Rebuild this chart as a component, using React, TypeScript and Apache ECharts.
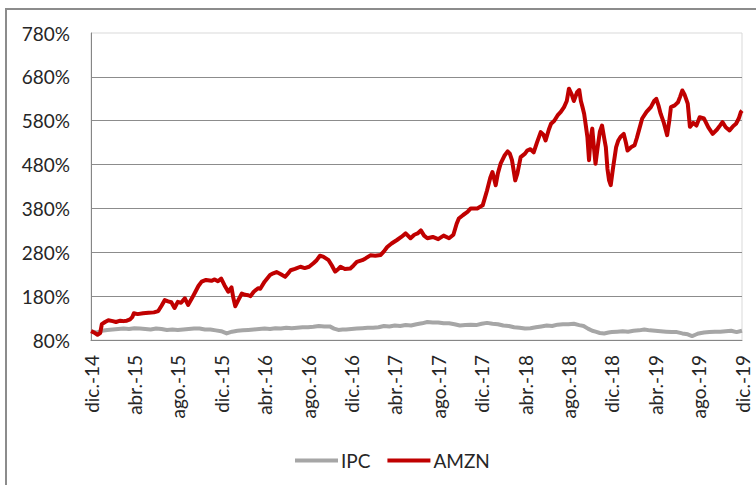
import React, { useEffect, useRef } from "react";
import * as echarts from "echarts";

// Month offsets from Dec 2014; tick labels every 4 months
const xTickLabels = [
  "dic.-14", "abr.-15", "ago.-15", "dic.-15", "abr.-16", "ago.-16", "dic.-16", "abr.-17",
  "ago.-17", "dic.-17", "abr.-18", "ago.-18", "dic.-18", "abr.-19", "ago.-19", "dic.-19",
];

const yBase = 80; // lowest % shown on the value axis

const ipcMonths = [
  0, 0.5, 1, 1.5, 2, 2.5, 3, 3.5, 4, 4.5, 5, 5.5, 6, 6.5, 7, 7.5, 8, 8.5, 9, 9.5, 10, 10.5,
  11, 11.5, 12, 12.5, 13, 13.5, 14, 14.5, 15, 15.5, 16, 16.5, 17, 17.5, 18, 18.5, 19, 19.5,
  20, 20.5, 21, 21.5, 22, 22.4, 22.8, 23.2, 23.5, 24, 24.5, 25, 25.5, 26, 26.5, 27, 27.5, 28,
  28.5, 29, 29.5, 30, 30.5, 31, 31.5, 32, 32.5, 33, 33.5, 34, 34.5, 35, 35.5, 36, 36.5, 37,
  37.5, 38, 38.5, 39, 39.5, 40, 40.5, 41, 41.5, 42, 42.5, 43, 43.5, 44, 44.5, 45, 45.4, 45.8,
  46.2, 46.5, 46.9, 47.3, 47.7, 48, 48.5, 49, 49.5, 50, 50.5, 51, 51.5, 52, 52.5, 53, 53.5,
  54, 54.5, 55, 55.4, 55.7, 56, 56.5, 57, 57.5, 58, 58.5, 59, 59.5, 60,
];
const ipcValues = [
  100, 97, 101, 103, 104, 105, 106, 105, 107, 106, 105, 104, 106, 105, 103, 104, 103, 104,
  105, 106, 106, 104, 104, 102, 100, 95, 99, 101, 102, 103, 104, 105, 106, 105, 107, 106,
  108, 107, 108, 109, 109, 110, 112, 111, 111, 106, 103, 104, 104, 105, 106, 107, 108, 108,
  109, 112, 111, 113, 112, 114, 113, 116, 118, 121, 120, 120, 118, 118, 116, 113, 114, 115,
  114, 117, 119, 117, 116, 113, 112, 109, 108, 106, 107, 109, 111, 113, 112, 115, 116, 116,
  117, 114, 112, 106, 101, 99, 96, 95, 97, 98, 99, 100, 99, 101, 102, 104, 102, 101, 100,
  99, 98, 98, 95, 93, 89, 92, 95, 97, 98, 99, 99, 100, 101, 98, 101,
];

const amznMonths = [
  0, 0.3, 0.6, 0.85, 1.0, 1.3, 1.6, 2.0, 2.3, 2.7, 3.0, 3.3, 3.6, 3.8, 3.95, 4.3, 4.8, 5.3,
  5.8, 6.2, 6.5, 6.8, 7.1, 7.4, 7.7, 8.0, 8.3, 8.65, 8.95, 9.3, 9.6, 9.9, 10.2, 10.6, 11.1,
  11.4, 11.7, 12.0, 12.3, 12.65, 12.95, 13.1, 13.3, 13.6, 13.9, 14.2, 14.5, 14.7, 15.0, 15.4,
  15.6, 16.0, 16.5, 16.8, 17.1, 17.5, 17.9, 18.2, 18.4, 18.8, 19.3, 19.7, 20.1, 20.5, 20.8,
  21.1, 21.4, 21.9, 22.2, 22.5, 22.8, 23.0, 23.4, 23.9, 24.2, 24.5, 25.0, 25.3, 25.75, 26.2,
  26.7, 27.0, 27.3, 27.7, 28.2, 28.6, 29.0, 29.45, 29.8, 30.1, 30.4, 30.7, 31.0, 31.5, 32.0,
  32.5, 33.0, 33.4, 33.7, 33.9, 34.3, 34.7, 35.0, 35.6, 36.1, 36.5, 36.8, 37.0, 37.3, 37.5,
  37.75, 38.1, 38.4, 38.6, 38.8, 39.1, 39.3, 39.6, 40.0, 40.2, 40.5, 40.8, 41.1, 41.45, 41.7,
  41.9, 42.2, 42.4, 42.7, 43.0, 43.3, 43.6, 43.85, 44.05, 44.3, 44.5, 44.8, 45.0, 45.15, 45.3,
  45.45, 45.6, 45.75, 45.9, 46.05, 46.2, 46.35, 46.5, 46.7, 46.9, 47.1, 47.3, 47.45, 47.6,
  47.75, 47.9, 48.1, 48.4, 48.6, 48.8, 49.1, 49.3, 49.45, 49.8, 50.1, 50.3, 50.5, 50.8, 51.2,
  51.6, 51.9, 52.1, 52.3, 52.5, 52.8, 53.1, 53.3, 53.45, 53.8, 54.1, 54.3, 54.5, 54.7, 55.0,
  55.2, 55.5, 55.8, 56.1, 56.5, 56.9, 57.3, 57.7, 58.0, 58.2, 58.5, 58.85, 59.2, 59.45, 59.7,
  59.9, 60.0,
];
const amznValues = [
  100, 97, 92, 96, 116, 121, 125, 123, 121, 124, 123, 124, 127, 132, 141, 139, 141, 142,
  143, 146, 158, 171, 168, 166, 153, 167, 165, 175, 160, 175, 189, 203, 213, 217, 215,
  218, 214, 220, 205, 190, 200, 178, 157, 172, 186, 183, 182, 180, 190, 198,
  197, 213, 228, 232, 235, 230, 224, 233, 239, 242, 247, 244, 247, 255, 262,
  272, 270, 262, 250, 236, 242, 247, 242, 243, 250, 258, 262, 266, 273, 272,
  274, 282, 292, 300, 308, 315, 323, 312, 320, 323, 330, 318, 312, 315, 310,
  318, 312, 320, 345, 357, 365, 372, 380, 380, 387, 421, 450, 463, 433, 460,
  482, 500, 510, 505, 490, 444, 460, 497, 505, 512, 515, 508, 530, 554, 548,
  535, 560, 573, 580, 592, 600, 611, 625, 653, 640, 625, 645, 650, 625, 611,
  596, 570, 543, 490, 540, 562, 520, 482, 520, 555, 569, 540, 520, 470,
  444, 433, 470, 520, 535, 543, 550, 530, 512, 520, 524, 540, 558, 585, 600,
  611, 625, 630, 615, 596, 575, 547, 580, 611, 615, 622, 635, 649, 640, 619,
  566, 575, 569, 588, 585, 565, 550, 560, 570, 577, 565, 558, 568, 573, 585,
  600, 603,
];

const FONT = "Lato";

export default function App() {
  const ref = useRef<HTMLDivElement>(null);
  useEffect(() => {
    document.body.style.margin = "0";
    const chart = echarts.init(ref.current!, null, { renderer: "svg" });
    const ipcData = ipcMonths.map((m, i) => [m, ipcValues[i] - yBase]);
    const amznData = amznMonths.map((m, i) => [m, amznValues[i] - yBase]);
    chart.setOption({
      animation: false,
      backgroundColor: "#ffffff",
      textStyle: { fontFamily: FONT },
      graphic: [
        {
          type: "rect",
          shape: { x: 6, y: 9, width: 800, height: 520 },
          style: { fill: "none", stroke: "#8c8c8c", lineWidth: 2 },
          silent: true,
        },
      ],
      grid: { left: 91, top: 33, right: 14, bottom: 145, show: true, borderColor: "#d9d9d9", borderWidth: 1, backgroundColor: "transparent" },
      legend: {
        left: 290,
        top: 446,
        icon: "rect",
        itemWidth: 43,
        itemHeight: 4,
        itemGap: 17,
        textStyle: { fontFamily: FONT, fontSize: 19, color: "#262626", padding: [0, 0, 0, -2] },
        data: ["IPC", "AMZN"],
      },
      xAxis: {
        type: "value",
        min: 0,
        max: 60,
        interval: 4,
        axisLine: { show: true, lineStyle: { color: "#868686", width: 1 } },
        axisTick: { show: false },
        splitLine: { show: false },
        axisLabel: {
          rotate: 90,
          margin: 15,
          fontFamily: FONT,
          fontSize: 19,
          color: "#262626",
          formatter: (v: number) => xTickLabels[Math.round(v / 4)] ?? "",
        },
      },
      yAxis: {
        type: "value",
        min: 0,
        max: 700,
        interval: 100,
        axisLine: { show: true, lineStyle: { color: "#868686", width: 1 } },
        axisTick: { show: false },
        splitLine: { show: true, showMaxLine: false, lineStyle: { color: "#8c8c8c", width: 1 } },
        axisLabel: {
          margin: 21,
          fontFamily: FONT,
          fontSize: 19,
          color: "#262626",
          formatter: (v: number) => `${v + yBase}%`,
        },
      },
      series: [
        {
          name: "IPC",
          type: "line",
          data: ipcData,
          symbol: "none",
          lineStyle: { color: "#a6a6a6", width: 4, join: "round" },
          itemStyle: { color: "#a6a6a6" },
          z: 2,
        },
        {
          name: "AMZN",
          type: "line",
          data: amznData,
          symbol: "none",
          lineStyle: { color: "#c00000", width: 4, join: "round" },
          itemStyle: { color: "#c00000" },
          z: 3,
        },
      ],
    });
    return () => chart.dispose();
  }, []);
  return <div ref={ref} style={{ width: 756, height: 485 }} />;
}
